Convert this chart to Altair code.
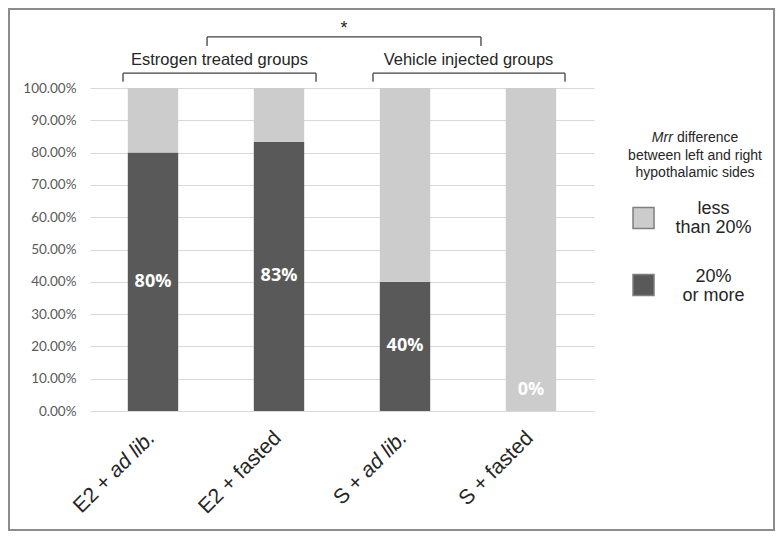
import altair as alt
import pandas as pd

# ---------------- data ----------------
groups = ["E2 + ad lib.", "E2 + fasted", "S + ad lib.", "S + fasted"]
label_plain = ["E2 +", "E2 + fasted", "S +", "S + fasted"]
label_italic = ["ad lib.", "", "ad lib.", ""]
share_20_or_more = [0.80, 0.833, 0.40, 0.0]
share_labels = ["80%", "83%", "40%", "0%"]
categories = ["less than 20%", "20% or more"]
legend_lines = ["less\nthan 20%", "20%\nor more"]
cat_colors = ["#cccccc", "#595959"]
y_ticks = [0.0, 0.1, 0.2, 0.3, 0.4, 0.5, 0.6, 0.7, 0.8, 0.9, 1.0]
group_sets = ["Estrogen treated groups", "Vehicle injected groups"]
significance = "*"
legend_title_italic = "Mrr"
legend_title_first = "difference"
legend_title_rest = "between left and right\nhypothalamic sides"

# ---------------- layout (annotation positions in data space) ----------------
W, H = 504, 323
PAD = {"left": 82, "top": 80, "right": 181, "bottom": 120}
# bracket: x-left, x-right (category units), y of bar, y of tick ends (share units)
bracket_geom = [(-0.238, 1.294, 1.046, 1.019),
                (1.746, 3.270, 1.046, 1.019),
                (0.429, 2.603, 1.158, 1.130)]
set_label_pos = [(0.528, 1.087), (2.504, 1.087)]
star_pos = (1.516, 1.166)
legend_sq_x = 3.893
legend_sq_y = [0.5975, 0.390]
legend_lab_x = 4.448
legend_lab_y = [0.6254, 0.4149]      # first line of each label
legend_title_x = 4.302
legend_title_y1 = 0.8452
legend_title_y2 = 0.7895             # first of the remaining lines

XL_SIZE = 21
ITALIC_SHIFT = -(2.668 + 0.278) * XL_SIZE   # width of "ad lib." plus a space

band = alt.Scale(domain=groups, paddingInner=0.6, paddingOuter=0.3)
yscale = alt.Scale(domain=[0, 1], nice=False, zero=True)
xq = alt.Scale(domain=[-0.5, 3.5], nice=False, zero=False)
cscale = alt.Scale(domain=categories, range=cat_colors)
yaxis = alt.Axis(values=y_ticks, format=".2%", grid=True, gridColor="#d9d9d9",
                 gridWidth=1, domain=False, ticks=False, labelPadding=14,
                 labelFont="Lato", labelFontSize=13.5, labelColor="#595959", title=None)
TXT = "#262626"
FONT = "Liberation Sans"


def Y(field):
    return alt.Y(field, scale=yscale, axis=yaxis, title=None)


# ---------------- bars ----------------
rows = []
for g, v in zip(groups, share_20_or_more):
    rows.append({"group": g, "category": categories[1], "value": v, "order": 0})
    rows.append({"group": g, "category": categories[0], "value": round(1 - v, 4), "order": 1})
bar_df = pd.DataFrame(rows)

bars = alt.Chart(bar_df).mark_bar().encode(
    x=alt.X("group:N", scale=band, axis=None),
    y=alt.Y("value:Q", stack="zero", scale=yscale, axis=yaxis, title=None),
    color=alt.Color("category:N", scale=cscale, legend=None),
    order=alt.Order("order:Q"),
)

lab_df = pd.DataFrame({"group": groups, "text": share_labels,
                       "ypos": [max(v / 2, 0.065) for v in share_20_or_more]})
bar_labels = alt.Chart(lab_df).mark_text(
    font="Open Sans", fontWeight="bold", fontSize=18, color="white", baseline="middle"
).encode(
    x=alt.X("group:N", scale=band, axis=None),
    y=Y("ypos:Q"),
    text="text:N",
)

# ---------------- x labels (rotated, partly italic) ----------------
xl_df = pd.DataFrame({"group": groups, "plain": label_plain, "italic": label_italic,
                      "base": [0.0] * len(groups)})
xl_enc = dict(x=alt.X("group:N", scale=band, axis=None), y=Y("base:Q"))
xl_common = dict(angle=315, align="right", baseline="middle", yOffset=24, xOffset=-1,
                 font=FONT, fontSize=XL_SIZE, color=TXT)
xl_it = alt.Chart(xl_df).transform_filter("datum.italic != ''").mark_text(
    fontStyle="italic", **xl_common).encode(text="italic:N", **xl_enc)
xl_pre = alt.Chart(xl_df).transform_filter("datum.italic != ''").mark_text(
    dx=ITALIC_SHIFT, **xl_common).encode(text="plain:N", **xl_enc)
xl_full = alt.Chart(xl_df).transform_filter("datum.italic == ''").mark_text(
    **xl_common).encode(text="plain:N", **xl_enc)

# ---------------- brackets & annotations ----------------
segs = []
for x1, x2, yb, yt in bracket_geom:
    segs.append({"x": x1, "x2": x2, "y": yb, "y2": yb})
    segs.append({"x": x1, "x2": x1, "y": yb, "y2": yt})
    segs.append({"x": x2, "x2": x2, "y": yb, "y2": yt})
seg_df = pd.DataFrame(segs)
brackets = alt.Chart(seg_df).mark_rule(color="#404040", strokeWidth=1.3).encode(
    x=alt.X("x:Q", scale=xq, axis=None), x2="x2:Q",
    y=Y("y:Q"), y2="y2:Q",
)

set_df = pd.DataFrame({"text": group_sets,
                       "x": [p[0] for p in set_label_pos],
                       "y": [p[1] for p in set_label_pos]})
set_text = alt.Chart(set_df).mark_text(font=FONT, fontSize=16.5, color=TXT, baseline="middle").encode(
    x=alt.X("x:Q", scale=xq, axis=None), y=Y("y:Q"), text="text:N")

star_df = pd.DataFrame({"text": [significance], "x": [star_pos[0]], "y": [star_pos[1]]})
star = alt.Chart(star_df).mark_text(font=FONT, fontSize=18, color=TXT, baseline="alphabetic").encode(
    x=alt.X("x:Q", scale=xq, axis=None), y=Y("y:Q"), text="text:N")

# ---------------- legend (manual) ----------------
leg_df = pd.DataFrame({"category": categories, "label": legend_lines,
                       "sx": [legend_sq_x] * 2, "sy": legend_sq_y,
                       "lx": [legend_lab_x] * 2, "ly": legend_lab_y})
leg_sq = alt.Chart(leg_df).mark_square(size=441, filled=True, opacity=1,
                                       stroke="#7f7f7f", strokeWidth=1.5).encode(
    x=alt.X("sx:Q", scale=xq, axis=None), y=Y("sy:Q"),
    color=alt.Color("category:N", scale=cscale, legend=None))
leg_lab = alt.Chart(leg_df).mark_text(font=FONT, fontSize=18, color=TXT, lineBreak="\n",
                                      lineHeight=19.5, baseline="middle").encode(
    x=alt.X("lx:Q", scale=xq, axis=None), y=Y("ly:Q"), text="label:N")

lt_df = pd.DataFrame({"it": [legend_title_italic], "first": [legend_title_first],
                      "rest": [legend_title_rest], "x": [legend_title_x],
                      "y1": [legend_title_y1], "y2": [legend_title_y2]})
lt_it = alt.Chart(lt_df).mark_text(font=FONT, fontSize=14, color=TXT, fontStyle="italic",
                                   align="left", dx=-43.2, baseline="middle").encode(
    x=alt.X("x:Q", scale=xq, axis=None), y=Y("y1:Q"), text="it:N")
lt_first = alt.Chart(lt_df).mark_text(font=FONT, fontSize=14, color=TXT,
                                      align="right", dx=43.2, baseline="middle").encode(
    x=alt.X("x:Q", scale=xq, axis=None), y=Y("y1:Q"), text="first:N")
lt_rest = alt.Chart(lt_df).mark_text(font=FONT, fontSize=14, color=TXT, lineBreak="\n",
                                     lineHeight=17, baseline="middle").encode(
    x=alt.X("x:Q", scale=xq, axis=None), y=Y("y2:Q"), text="rest:N")

# ---------------- outer frame ----------------
frame = alt.Chart(alt.Data(values=[{"k": 1}])).mark_rect(
    filled=False, stroke="#8c8c8c", strokeWidth=2).encode(
    x=alt.value(-PAD["left"] + 1), x2=alt.value(W + PAD["right"] - 1),
    y=alt.value(-PAD["top"] + 1), y2=alt.value(H + PAD["bottom"] - 1))

chart = alt.layer(
    bars, bar_labels, xl_it, xl_pre, xl_full, brackets, set_text, star,
    leg_sq, leg_lab, lt_it, lt_first, lt_rest, frame
).resolve_scale(x="independent").properties(
    width=W, height=H, padding=PAD, autosize=alt.AutoSizeParams(type="none"),
    background="white"
).configure_view(stroke=None)

chart.save("out.html", embed_options={"renderer": "svg", "actions": False})
